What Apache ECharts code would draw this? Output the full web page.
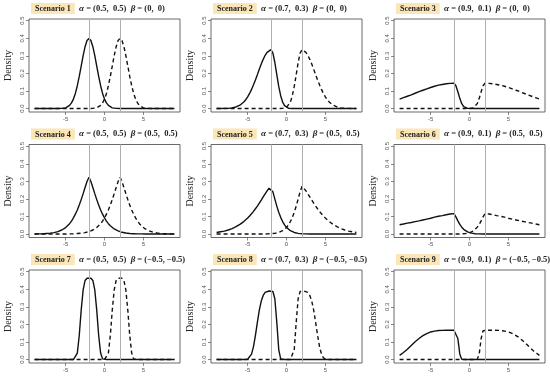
<!DOCTYPE html>
<html><head><meta charset="utf-8">
<script src="https://cdn.jsdelivr.net/npm/echarts@6/dist/echarts.min.js"></script>
<style>html,body{margin:0;padding:0;background:#fff}#c{width:550px;height:377px}</style>
</head><body><div id="c"></div>
<script>
// ---- data ----
const xs = [-9,-8.75,-8.5,-8.25, -8,-7.75,-7.5,-7.25, -7,-6.75,-6.5,-6.25, -6,-5.75,-5.5,-5.25, -5,-4.75,-4.5,-4.25, -4,-3.75,-3.5,-3.25, -3,-2.75,-2.5,-2.25, -2,-1.75,-1.5,-1.25, -1,-0.75,-0.5,-0.25, 0,0.25,0.5,0.75, 1,1.25,1.5,1.75, 2,2.25,2.5,2.75, 3,3.25,3.5,3.75, 4,4.25,4.5,4.75, 5,5.25,5.5,5.75, 6,6.25,6.5,6.75, 7,7.25,7.5,7.75, 8,8.25,8.5,8.75, 9];

const s1 = [0,0,0,0, 0,0,0,0, 0,0,0,0, 0,0,0.001,0.002, 0.004,0.009,0.018,0.032, 0.054,0.086,0.130,0.183, 0.242,0.301,0.352,0.387, 0.399,0.387,0.352,0.301, 0.242,0.183,0.130,0.086, 0.054,0.032,0.018,0.009, 0.004,0.002,0.001,0, 0,0,0,0, 0,0,0,0, 0,0,0,0, 0,0,0,0, 0,0,0,0, 0,0,0,0, 0,0,0,0, 0];
const d1 = [0,0,0,0, 0,0,0,0, 0,0,0,0, 0,0,0,0, 0,0,0,0, 0,0,0,0, 0,0,0,0, 0,0,0.001,0.002, 0.004,0.009,0.018,0.032, 0.054,0.086,0.130,0.183, 0.242,0.301,0.352,0.387, 0.399,0.387,0.352,0.301, 0.242,0.183,0.130,0.086, 0.054,0.032,0.018,0.009, 0.004,0.002,0.001,0, 0,0,0,0, 0,0,0,0, 0,0,0,0, 0];

const s2 = [0,0,0,0, 0.001,0.001,0.001,0.002, 0.004,0.006,0.009,0.013, 0.019,0.027,0.037,0.050, 0.066,0.086,0.109,0.135, 0.163,0.193,0.224,0.253, 0.280,0.303,0.320,0.331, 0.335,0.315,0.262,0.193, 0.126,0.073,0.037,0.017, 0.007,0.002,0.001,0, 0,0,0,0, 0,0,0,0, 0,0,0,0, 0,0,0,0, 0,0,0,0, 0,0,0,0, 0,0,0,0, 0,0,0,0, 0];
const d2 = [0,0,0,0, 0,0,0,0, 0,0,0,0, 0,0,0,0, 0,0,0,0, 0,0,0,0, 0,0,0,0, 0,0,0,0, 0,0,0.001,0.002, 0.007,0.017,0.037,0.073, 0.126,0.193,0.262,0.315, 0.335,0.331,0.320,0.303, 0.280,0.253,0.224,0.193, 0.163,0.135,0.109,0.086, 0.066,0.050,0.037,0.027, 0.019,0.013,0.009,0.006, 0.004,0.002,0.001,0.001, 0.001,0,0,0, 0];

const s3 = [0.054,0.058,0.062,0.066, 0.070,0.074,0.078,0.083, 0.087,0.092,0.096,0.100, 0.104,0.108,0.112,0.116, 0.120,0.124,0.127,0.130, 0.133,0.135,0.137,0.139, 0.141,0.142,0.143,0.143, 0.144,0.130,0.096,0.058, 0.028,0.011,0.004,0.001, 0,0,0,0, 0,0,0,0, 0,0,0,0, 0,0,0,0, 0,0,0,0, 0,0,0,0, 0,0,0,0, 0,0,0,0, 0,0,0,0, 0];
const d3 = [0,0,0,0, 0,0,0,0, 0,0,0,0, 0,0,0,0, 0,0,0,0, 0,0,0,0, 0,0,0,0, 0,0,0,0, 0,0,0,0, 0,0.001,0.004,0.011, 0.028,0.058,0.096,0.130, 0.144,0.143,0.143,0.142, 0.141,0.139,0.137,0.135, 0.133,0.130,0.127,0.124, 0.120,0.116,0.112,0.108, 0.104,0.100,0.096,0.092, 0.087,0.083,0.078,0.074, 0.070,0.066,0.062,0.058, 0.054];

const s4 = [0,0.001,0.001,0.001, 0.001,0.002,0.003,0.003, 0.005,0.006,0.008,0.010, 0.014,0.018,0.023,0.029, 0.037,0.047,0.059,0.074, 0.092,0.113,0.137,0.165, 0.196,0.230,0.265,0.299, 0.323,0.299,0.265,0.230, 0.196,0.165,0.137,0.113, 0.092,0.074,0.059,0.047, 0.037,0.029,0.023,0.018, 0.014,0.010,0.008,0.006, 0.005,0.003,0.003,0.002, 0.001,0.001,0.001,0.001, 0,0,0,0, 0,0,0,0, 0,0,0,0, 0,0,0,0, 0];
const d4 = [0,0,0,0, 0,0,0,0, 0,0,0,0, 0,0,0,0, 0,0.001,0.001,0.001, 0.001,0.002,0.003,0.003, 0.005,0.006,0.008,0.010, 0.014,0.018,0.023,0.029, 0.037,0.047,0.059,0.074, 0.092,0.113,0.137,0.165, 0.196,0.230,0.265,0.299, 0.323,0.299,0.265,0.230, 0.196,0.165,0.137,0.113, 0.092,0.074,0.059,0.047, 0.037,0.029,0.023,0.018, 0.014,0.010,0.008,0.006, 0.005,0.003,0.003,0.002, 0.001,0.001,0.001,0.001, 0];

const s5 = [0.009,0.011,0.013,0.015, 0.017,0.020,0.023,0.027, 0.031,0.036,0.042,0.048, 0.055,0.062,0.071,0.080, 0.091,0.103,0.115,0.129, 0.144,0.159,0.176,0.193, 0.211,0.229,0.246,0.261, 0.272,0.240,0.199,0.159, 0.124,0.095,0.071,0.052, 0.038,0.027,0.019,0.013, 0.009,0.006,0.004,0.003, 0.002,0.001,0.001,0.001, 0,0,0,0, 0,0,0,0, 0,0,0,0, 0,0,0,0, 0,0,0,0, 0,0,0,0, 0];
const d5 = [0,0,0,0, 0,0,0,0, 0,0,0,0, 0,0,0,0, 0,0,0,0, 0,0,0,0, 0,0.001,0.001,0.001, 0.002,0.003,0.004,0.006, 0.009,0.013,0.019,0.027, 0.038,0.052,0.071,0.095, 0.124,0.159,0.199,0.240, 0.272,0.261,0.246,0.229, 0.211,0.193,0.176,0.159, 0.144,0.129,0.115,0.103, 0.091,0.080,0.071,0.062, 0.055,0.048,0.042,0.036, 0.031,0.027,0.023,0.020, 0.017,0.015,0.013,0.011, 0.009];

const s6 = [0.053,0.055,0.057,0.059, 0.062,0.064,0.066,0.068, 0.071,0.073,0.075,0.078, 0.080,0.083,0.085,0.088, 0.090,0.093,0.096,0.098, 0.101,0.103,0.105,0.108, 0.110,0.112,0.114,0.115, 0.116,0.098,0.075,0.055, 0.039,0.027,0.018,0.012, 0.007,0.005,0.003,0.002, 0.001,0.001,0,0, 0,0,0,0, 0,0,0,0, 0,0,0,0, 0,0,0,0, 0,0,0,0, 0,0,0,0, 0,0,0,0, 0];
const d6 = [0,0,0,0, 0,0,0,0, 0,0,0,0, 0,0,0,0, 0,0,0,0, 0,0,0,0, 0,0,0,0, 0,0,0,0.001, 0.001,0.002,0.003,0.005, 0.007,0.012,0.018,0.027, 0.039,0.055,0.075,0.098, 0.116,0.115,0.114,0.112, 0.110,0.108,0.105,0.103, 0.101,0.098,0.096,0.093, 0.090,0.088,0.085,0.083, 0.080,0.078,0.075,0.073, 0.071,0.068,0.066,0.064, 0.062,0.059,0.057,0.055, 0.053];

const s7 = [0,0,0,0, 0,0,0,0, 0,0,0,0, 0,0,0,0, 0,0,0,0, 0,0.004,0.037,0.137, 0.281,0.396,0.450,0.463, 0.464,0.463,0.450,0.396, 0.281,0.137,0.037,0.004, 0,0,0,0, 0,0,0,0, 0,0,0,0, 0,0,0,0, 0,0,0,0, 0,0,0,0, 0,0,0,0, 0,0,0,0, 0,0,0,0, 0,0,0,0, 0];
const d7 = [0,0,0,0, 0,0,0,0, 0,0,0,0, 0,0,0,0, 0,0,0,0, 0,0,0,0, 0,0,0,0, 0,0,0,0, 0,0,0,0, 0,0.004,0.037,0.137, 0.281,0.396,0.450,0.463, 0.464,0.463,0.450,0.396, 0.281,0.137,0.037,0.004, 0,0,0,0, 0,0,0,0, 0,0,0,0, 0,0,0,0, 0,0,0,0, 0];

const s8 = [0,0,0,0, 0,0,0,0, 0,0,0,0, 0,0,0,0, 0.002,0.010,0.031,0.074, 0.138,0.212,0.281,0.333, 0.365,0.382,0.388,0.390, 0.390,0.387,0.346,0.212, 0.057,0.004,0,0, 0,0,0,0, 0,0,0,0, 0,0,0,0, 0,0,0,0, 0,0,0,0, 0,0,0,0, 0,0,0,0, 0,0,0,0, 0,0,0,0, 0];
const d8 = [0,0,0,0, 0,0,0,0, 0,0,0,0, 0,0,0,0, 0,0,0,0, 0,0,0,0, 0,0,0,0, 0,0,0,0, 0,0,0,0, 0,0,0,0.004, 0.057,0.212,0.346,0.387, 0.390,0.390,0.388,0.382, 0.365,0.333,0.281,0.212, 0.138,0.074,0.031,0.010, 0.002,0,0,0, 0,0,0,0, 0,0,0,0, 0,0,0,0, 0];

const s9 = [0.024,0.032,0.040,0.049, 0.059,0.070,0.080,0.091, 0.101,0.111,0.120,0.129, 0.136,0.143,0.148,0.153, 0.157,0.160,0.162,0.164, 0.165,0.166,0.166,0.167, 0.167,0.167,0.167,0.167, 0.167,0.164,0.120,0.032, 0.001,0,0,0, 0,0,0,0, 0,0,0,0, 0,0,0,0, 0,0,0,0, 0,0,0,0, 0,0,0,0, 0,0,0,0, 0,0,0,0, 0,0,0,0, 0];
const d9 = [0,0,0,0, 0,0,0,0, 0,0,0,0, 0,0,0,0, 0,0,0,0, 0,0,0,0, 0,0,0,0, 0,0,0,0, 0,0,0,0, 0,0,0,0, 0.001,0.032,0.120,0.164, 0.167,0.167,0.167,0.167, 0.167,0.167,0.166,0.166, 0.165,0.164,0.162,0.160, 0.157,0.153,0.148,0.143, 0.136,0.129,0.120,0.111, 0.101,0.091,0.080,0.070, 0.059,0.049,0.040,0.032, 0.024];

const solidCurves = [s1, s2, s3, s4, s5, s6, s7, s8, s9];
const dashedCurves = [d1, d2, d3, d4, d5, d6, d7, d8, d9];
const scenarioNames = ['Scenario 1','Scenario 2','Scenario 3','Scenario 4','Scenario 5','Scenario 6','Scenario 7','Scenario 8','Scenario 9'];
const alphaLabels = ['(0.5,  0.5)','(0.7,  0.3)','(0.9,  0.1)','(0.5,  0.5)','(0.7,  0.3)','(0.9,  0.1)','(0.5,  0.5)','(0.7,  0.3)','(0.9,  0.1)'];
const betaLabels = ['(0,  0)','(0,  0)','(0,  0)','(0.5,  0.5)','(0.5,  0.5)','(0.5,  0.5)','(\u22120.5, \u22120.5)','(\u22120.5, \u22120.5)','(\u22120.5, \u22120.5)'];
const vlines = [-2, 2];
const xTicks = [-5, 0, 5];
const yTicks = [0, 0.1, 0.2, 0.3, 0.4, 0.5];

// ---- layout ----
const colLeft = [29, 211, 394];
const rowTop = [19, 144.5, 270];
const W = 151, H = 93;
const SERIF = '"Liberation Serif","DejaVu Serif",serif';
const SANS = '"Liberation Sans","DejaVu Sans",sans-serif';

const grids = [], xAxes = [], yAxes = [], series = [], titles = [];
for (let k = 0; k < 9; k++) {
  const r = Math.floor(k / 3), c = k % 3;
  grids.push({left: colLeft[c], top: rowTop[r], width: W, height: H, show: true, borderColor: '#444', borderWidth: 0.8, backgroundColor: 'transparent'});
  xAxes.push({type: 'value', gridIndex: k, min: -9.72, max: 9.72, position: 'bottom', splitLine: {show: false},
    axisLine: {show: false, onZero: false},
    axisTick: {show: true, length: 3, lineStyle: {color: '#555', width: 0.7}, customValues: xTicks},
    axisLabel: {show: true, fontSize: 6, color: '#555', fontFamily: SANS, margin: 4, customValues: xTicks}});
  yAxes.push({type: 'value', gridIndex: k, min: -0.0196, max: 0.5096, position: 'left', splitLine: {show: false},
    axisLine: {show: false, onZero: false},
    axisTick: {show: true, length: 3, lineStyle: {color: '#555', width: 0.7}, customValues: yTicks},
    axisLabel: {show: true, fontSize: 6, color: '#555', fontFamily: SANS, rotate: 90, margin: 4, customValues: yTicks, formatter: v => v.toFixed(1)},
    name: 'Density', nameLocation: 'middle', nameGap: 16, nameRotate: 90, nameTextStyle: {fontFamily: SERIF, fontSize: 10, color: '#222'}});
  series.push({type: 'line', xAxisIndex: k, yAxisIndex: k, data: [], z: 1, silent: true,
    markLine: {silent: true, symbol: 'none', label: {show: false}, lineStyle: {color: '#b0b0b0', width: 1, type: 'solid'}, data: vlines.map(v => ({xAxis: v}))}});
  series.push({type: 'line', xAxisIndex: k, yAxisIndex: k, showSymbol: false, z: 3, silent: true,
    lineStyle: {color: '#111', width: 1.4}, data: xs.map((x, i) => [x, solidCurves[k][i]])});
  series.push({type: 'line', xAxisIndex: k, yAxisIndex: k, showSymbol: false, z: 3, silent: true,
    lineStyle: {color: '#111', width: 1.4, type: [4, 3]}, data: xs.map((x, i) => [x, dashedCurves[k][i]])});
  titles.push({left: colLeft[c] + 2, top: rowTop[r] - 16, padding: 0,
    text: '{b|' + scenarioNames[k] + '}{t|  }{g|\u03b1}{t| = ' + alphaLabels[k] + '  }{g|\u03b2}{t| = ' + betaLabels[k] + '}',
    textStyle: {rich: {
      b: {fontFamily: SERIF, fontWeight: 'bold', fontSize: 8, color: '#222', backgroundColor: '#fae6b6', padding: [2, 4, 1, 4], lineHeight: 11},
      g: {fontFamily: SERIF, fontWeight: 'bold', fontStyle: 'italic', fontSize: 9, color: '#222', lineHeight: 11},
      t: {fontFamily: SERIF, fontSize: 8.5, color: '#222', lineHeight: 11}}}});
}

const chart = echarts.init(document.getElementById('c'), null, {renderer: 'canvas'});
chart.setOption({animation: false, backgroundColor: '#fff', title: titles, grid: grids, xAxis: xAxes, yAxis: yAxes, series: series});
</script></body></html>
